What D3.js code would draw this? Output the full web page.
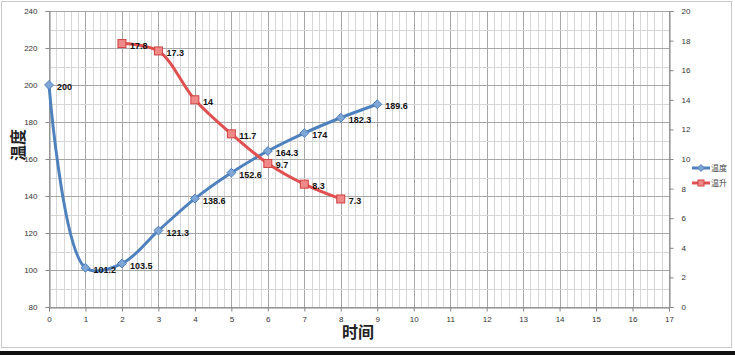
<!DOCTYPE html>
<html><head><meta charset="utf-8">
<script src="https://cdn.jsdelivr.net/npm/d3@7"></script>
<style>
html,body{margin:0;padding:0;background:#fff;}
svg{display:block;}
</style></head>
<body>
<svg id="c" width="735" height="355"></svg>
<script>
const xTicks = d3.range(0, 18);
const leftTicks = [80,100,120,140,160,180,200,220,240];
const rightTicks = [0,2,4,6,8,10,12,14,16,18,20];
const tempX = [0,1,2,3,4,5,6,7,8,9];
const tempY = [200,101.2,103.5,121.3,138.6,152.6,164.3,174,182.3,189.6];
const riseX = [2,3,4,5,6,7,8];
const riseY = [17.8,17.3,14,11.7,9.7,8.3,7.3];
const seriesNames = ["温度","温升"];

const svg = d3.select("#c");
const L=49, R=669, T=11, B=307;
const x = d3.scaleLinear().domain([0,17]).range([L,R]);
const yL = d3.scaleLinear().domain([80,240]).range([B,T]);
const yR = d3.scaleLinear().domain([0,20]).range([B,T]);

svg.append("rect").attr("x",1.5).attr("y",1.5).attr("width",730).attr("height",346)
  .attr("fill","#fff").attr("stroke","#c8c8c8").attr("stroke-width",1);
svg.append("rect").attr("x",0).attr("y",351).attr("width",735).attr("height",4).attr("fill","#111");

const g = svg.append("g");
d3.range(0,17.0001,0.2).forEach(v=>{
  const major = Math.abs(v-Math.round(v))<1e-6;
  g.append("line").attr("x1",Math.round(x(v))+0.5).attr("x2",Math.round(x(v))+0.5)
   .attr("y1",T).attr("y2",B).attr("stroke", major?"#a6a6a6":"#d6d6d6").attr("stroke-width",1);
});
d3.range(80,240.0001,10).forEach(v=>{
  const major = v%20===0;
  g.append("line").attr("y1",Math.round(yL(v))+0.5).attr("y2",Math.round(yL(v))+0.5)
   .attr("x1",L).attr("x2",R).attr("stroke", major?"#a6a6a6":"#d6d6d6").attr("stroke-width",1);
});

const fontAx = "Liberation Sans, Arial, sans-serif";
const axL = svg.append("g").attr("transform",`translate(${L+0.5},0)`)
  .call(d3.axisLeft(yL).tickValues(leftTicks).tickSize(4).tickPadding(8).tickFormat(d3.format("d")));
const axR = svg.append("g").attr("transform",`translate(${R+0.5},0)`)
  .call(d3.axisRight(yR).tickValues(rightTicks).tickSize(4).tickPadding(8).tickFormat(d3.format("d")));
const axB = svg.append("g").attr("transform",`translate(0,${B+0.5})`)
  .call(d3.axisBottom(x).tickValues(xTicks).tickSize(4).tickPadding(5).tickFormat(d3.format("d")));
[axL,axR,axB].forEach(a=>{
  a.selectAll("path").attr("stroke","#868686");
  a.selectAll("line").attr("stroke","#868686");
  a.selectAll("text").attr("font-family",fontAx).attr("font-size",8).attr("fill","#333");
});

svg.append("text").attr("transform","translate(24,145) rotate(-90)").attr("text-anchor","middle")
  .attr("font-family","Noto Sans CJK SC").attr("font-weight","bold").attr("font-size",16).attr("fill","#222").text("温度");
svg.append("text").attr("x",358).attr("y",338).attr("text-anchor","middle")
  .attr("font-family","Noto Sans CJK SC").attr("font-weight","bold").attr("font-size",16).attr("fill","#222").text("时间");

const blue="#4f81bd", blueM="#7ea6d6", red="#e05050", redM="#f08a88";
const curve = d3.curveCatmullRom.alpha(0.5);
const tempPts = tempX.map((d,i)=>[x(d), yL(tempY[i])]);
const risePts = riseX.map((d,i)=>[x(d), yR(riseY[i])]);
svg.append("path").attr("d", d3.line().curve(curve)(tempPts)).attr("fill","none").attr("stroke",blue).attr("stroke-width",3);
svg.append("path").attr("d", d3.line().curve(curve)(risePts)).attr("fill","none").attr("stroke",red).attr("stroke-width",3);

svg.append("g").selectAll("path").data(tempPts).join("path")
  .attr("d", d3.symbol(d3.symbolDiamond2, 50)())
  .attr("transform", d=>`translate(${d[0]},${d[1]})`)
  .attr("fill", blueM).attr("stroke", blue).attr("stroke-width",1);
svg.append("g").selectAll("rect").data(risePts).join("rect")
  .attr("x", d=>d[0]-4).attr("y", d=>d[1]-4).attr("width",8).attr("height",8)
  .attr("fill", redM).attr("stroke", "#d04040").attr("stroke-width",1);

const lblFont = "Liberation Sans, Arial, sans-serif";
svg.append("g").selectAll("text").data(tempPts).join("text")
  .attr("x", d=>d[0]+8).attr("y", d=>d[1]+5)
  .attr("font-family",lblFont).attr("font-weight","bold").attr("font-size",9).attr("fill","#111")
  .text((d,i)=>tempY[i]);
svg.append("g").selectAll("text").data(risePts).join("text")
  .attr("x", d=>d[0]+8).attr("y", d=>d[1]+5)
  .attr("font-family",lblFont).attr("font-weight","bold").attr("font-size",9).attr("fill","#111")
  .text((d,i)=>riseY[i]);

const lg = svg.append("g");
[[blue,blueM,"d"],[red,redM,"s"]].forEach((c,i)=>{
  const yy = 168 + i*15;
  lg.append("line").attr("x1",692).attr("x2",710).attr("y1",yy).attr("y2",yy).attr("stroke",c[0]).attr("stroke-width",3);
  if(c[2]==="d") lg.append("path").attr("d",d3.symbol(d3.symbolDiamond2,30)()).attr("transform",`translate(701,${yy})`).attr("fill",c[1]).attr("stroke",c[0]);
  else lg.append("rect").attr("x",698).attr("y",yy-3).attr("width",6).attr("height",6).attr("fill",c[1]).attr("stroke","#d04040");
  lg.append("text").attr("x",711).attr("y",yy+3).attr("font-family","Noto Sans CJK SC").attr("font-size",8).attr("fill","#444").text(seriesNames[i]);
});
</script>
</body></html>
